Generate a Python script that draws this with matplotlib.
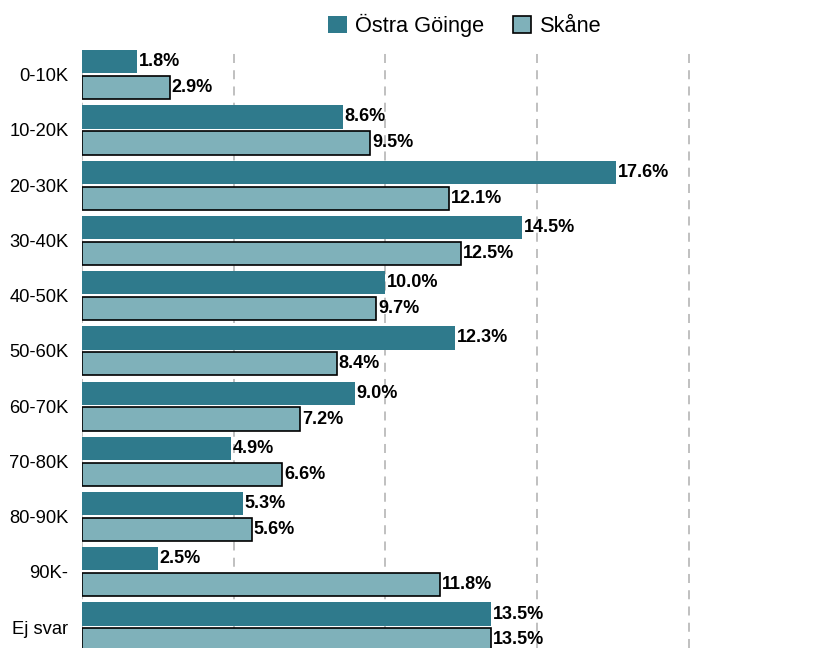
import matplotlib
matplotlib.use("Agg")
import matplotlib.pyplot as plt
import numpy as np

kategorier = ["0-10K", "10-20K", "20-30K", "30-40K", "40-50K", "50-60K",
              "60-70K", "70-80K", "80-90K", "90K-", "Ej svar"]
ostra_goinge = [1.8, 8.6, 17.6, 14.5, 10.0, 12.3, 9.0, 4.9, 5.3, 2.5, 13.5]
skane = [2.9, 9.5, 12.1, 12.5, 9.7, 8.4, 7.2, 6.6, 5.6, 11.8, 13.5]

MORK = "#2f7a8c"
LJUS = "#7fb1ba"

plt.rcParams["font.family"] = ["Liberation Sans", "DejaVu Sans"]

fig = plt.figure(figsize=(8.27, 6.48), dpi=100)
ax = fig.add_axes([0.0992, 0.0, 0.88, 0.923])

y = np.arange(len(kategorier))
h = 0.42
b1 = ax.barh(y - 0.235, ostra_goinge, height=h, color=MORK, label="Östra Göinge", zorder=3)
b2 = ax.barh(y + 0.235, skane, height=h, color=LJUS, edgecolor="black", linewidth=1.2,
             label="Skåne", zorder=3)

for bars, vals in ((b1, ostra_goinge), (b2, skane)):
    for b, v in zip(bars, vals):
        ax.text(v + 0.06, b.get_y() + b.get_height() / 2, f"{v:.1f}%", va="center", ha="left",
                fontsize=13, fontweight="bold", zorder=4)

ax.set_xlim(0, 24)
ax.set_ylim(10.38, -0.45)
ax.set_xticks([0, 5, 10, 15, 20])
ax.set_yticks(y)
ax.set_yticklabels(kategorier, fontsize=13.2)
ax.tick_params(axis="x", bottom=False, labelbottom=False)
ax.tick_params(axis="y", length=0, pad=9.8)
ax.grid(axis="x", color="#bbbbbb", linestyle=(0, (5, 4)), linewidth=1.3, zorder=0)
for s in ax.spines.values():
    s.set_visible(False)

fig.legend(loc="center", bbox_to_anchor=(0.562, 0.961), ncol=2, frameon=False, fontsize=15.7,
           handlelength=0.85, handleheight=0.85, handletextpad=0.4, columnspacing=1.3)

fig.savefig("out.png", dpi=100)
